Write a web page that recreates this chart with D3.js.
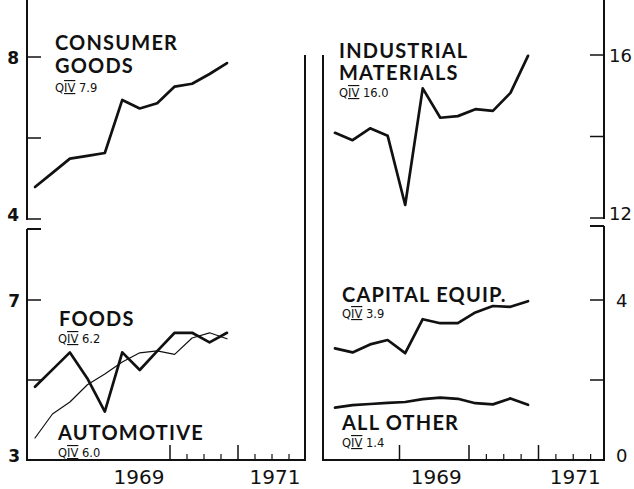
<!DOCTYPE html>
<html>
<head>
<meta charset="utf-8">
<script src="https://cdn.jsdelivr.net/npm/d3@7"></script>
<style>
  html, body { margin: 0; padding: 0; background: #fff; }
  svg { display: block; }
  .ttl { font-family: "Lato", "DejaVu Sans", sans-serif; font-weight: 700; font-size: 20px; letter-spacing: 1.2px; fill: #111; }
  .sub { font-family: "DejaVu Sans", sans-serif; font-size: 11.5px; fill: #111; }
  .ytick { font-family: "DejaVu Sans", sans-serif; font-weight: 700; font-size: 17px; fill: #111; }
  .ytickR { font-family: "DejaVu Sans", sans-serif; font-size: 18px; fill: #111; }
  .year { font-family: "DejaVu Sans", sans-serif; font-size: 20px; fill: #111; }
</style>
</head>
<body>
<script>
// ---- data (billions, seasonally adjusted annual rates) ----
const quarters = ["1968 QI","1968 QII","1968 QIII","1968 QIV",
                  "1969 QI","1969 QII","1969 QIII","1969 QIV",
                  "1970 QI","1970 QII","1970 QIII","1970 QIV"];
const consumerGoods       = [4.79, 5.14, 5.49, 5.56, 5.63, 6.94, 6.73, 6.86, 7.27, 7.34, 7.58, 7.85];
const foods               = [4.83, 5.26, 5.69, 5.04, 4.21, 5.69, 5.25, 5.72, 6.18, 6.18, 5.94, 6.18];
const automotive          = [3.55, 4.15, 4.45, 4.88, 5.15, 5.45, 5.68, 5.73, 5.64, 6.05, 6.18, 6.03];
const industrialMaterials = [14.09, 13.91, 14.20, 14.02, 12.32, 15.18, 14.46, 14.50, 14.67, 14.63, 15.07, 15.98];
const capitalEquip        = [2.79, 2.69, 2.89, 3.00, 2.67, 3.52, 3.42, 3.42, 3.69, 3.85, 3.83, 3.97];
const allOther            = [1.31, 1.37, 1.40, 1.43, 1.45, 1.52, 1.56, 1.53, 1.42, 1.39, 1.54, 1.38];

const leftTopTicks = [4, 6, 8];
const leftTopLabels = ["4", "8"];
const leftBottomTicks = [3, 5, 7];
const leftBottomLabels = ["3", "7"];
const rightTopTicks = [12, 14, 16];
const rightTopLabels = ["12", "16"];
const rightBottomTicks = [0, 2, 4];
const rightBottomLabels = ["0", "4"];
const yearLabels = ["1969", "1971"];
const majorYearTicksLeft = [1970, 1971];
const majorYearTicksRight = [1969, 1970, 1971];
const minorQuarterTicks = [1970.25, 1970.5, 1970.75, 1971.25, 1971.5, 1971.75];

const W = 634, H = 489;
const svg = d3.select("body").append("svg").attr("width", W).attr("height", H);

// ---- panel geometry ----
const baseY = 460;
const L = { x0: 27, x1: 305 };
const R = { x0: 323, x1: 604 };

const xL = d3.scalePoint().domain(quarters).range([35, 227]);
const xR = d3.scalePoint().domain(quarters).range([335, 528]);
const tL = d3.scaleLinear().domain([1968, 1972]).range([34, 306]);
const tR = d3.scaleLinear().domain([1968, 1972]).range([330, 608]);

const yLT = d3.scaleLinear().domain([4, 8]).range([219, 57]);
const yLB = d3.scaleLinear().domain([3, 7]).range([baseY, 300]);
const yRT = d3.scaleLinear().domain([12, 16]).range([218, 55]);
const yRB = d3.scaleLinear().domain([0, 4]).range([baseY, 300]);

const ink = "#111";
const g = svg.append("g");

function vline(x, y0, y1, w) {
  g.append("line").attr("x1", x).attr("x2", x).attr("y1", y0).attr("y2", y1)
    .attr("stroke", ink).attr("stroke-width", w || 2);
}
function hline(x0, x1, y, w) {
  g.append("line").attr("x1", x0).attr("x2", x1).attr("y1", y).attr("y2", y)
    .attr("stroke", ink).attr("stroke-width", w || 2);
}

// ---- frame lines ----
vline(L.x0, 0, yLT(4) + 1);
vline(L.x0, 229, baseY + 1);
hline(L.x0, L.x0 + 14, 229);
vline(R.x1, 0, yRT(12) + 1);
vline(R.x1, 226, baseY + 1);
hline(R.x1 - 14, R.x1, 226);
vline(L.x1, 55, baseY + 1);
vline(R.x0, 55, baseY + 1);
hline(L.x0 - 1, L.x1 + 1, baseY);
hline(R.x0 - 1, R.x1 + 1, baseY);

// ---- y ticks ----
leftTopTicks.forEach(v => hline(L.x0, L.x0 + 14, yLT(v), 1.5));
leftBottomTicks.filter(v => v !== 3).forEach(v => hline(L.x0, L.x0 + 14, yLB(v), 1.5));
rightTopTicks.forEach(v => hline(R.x1 - 14, R.x1, yRT(v), 1.5));
rightBottomTicks.filter(v => v !== 0).forEach(v => hline(R.x1 - 14, R.x1, yRB(v), 1.5));

// labels at the foot of a broken axis sit a little higher
function dy(s, lo) { return (+s === lo) ? 2 : 7; }
leftTopLabels.forEach(s => g.append("text").attr("class", "ytick")
  .attr("x", 19).attr("y", yLT(+s) + dy(s, 4)).attr("text-anchor", "end").text(s));
leftBottomLabels.forEach(s => g.append("text").attr("class", "ytick")
  .attr("x", 20).attr("y", yLB(+s) + dy(s, 3)).attr("text-anchor", "end").text(s));
rightTopLabels.forEach(s => g.append("text").attr("class", "ytickR")
  .attr("x", 609).attr("y", yRT(+s) + dy(s, 12)).text(s));
rightBottomLabels.forEach(s => g.append("text").attr("class", "ytickR")
  .attr("x", 616).attr("y", yRB(+s) + dy(s, 0)).text(s));

// ---- x ticks ----
majorYearTicksLeft.forEach(t => vline(tL(t), baseY - 15, baseY, 1.5));
majorYearTicksRight.forEach(t => vline(tR(t), baseY - 15, baseY, 1.5));
minorQuarterTicks.forEach(t => { vline(tL(t), baseY - 6, baseY, 1.2); vline(tR(t), baseY - 6, baseY, 1.2); });

yearLabels.forEach(s => {
  const c = +s + 0.5;
  g.append("text").attr("class", "year").attr("x", tL(c) + 3).attr("y", 484).attr("text-anchor", "middle").text(s);
  g.append("text").attr("class", "year").attr("x", tR(c) + 2).attr("y", 484).attr("text-anchor", "middle").text(s);
});

// ---- series lines ----
function drawLine(vals, x, y, w) {
  const line = d3.line().x((d, i) => x(quarters[i])).y(d => y(d)).curve(d3.curveLinear);
  g.append("path").datum(vals).attr("d", line)
    .attr("fill", "none").attr("stroke", ink).attr("stroke-width", w)
    .attr("stroke-linejoin", "round").attr("stroke-linecap", "round");
}
drawLine(consumerGoods, xL, yLT, 2.7);
drawLine(automotive, xL, yLB, 1.2);
drawLine(foods, xL, yLB, 2.7);
drawLine(industrialMaterials, xR, yRT, 2.7);
drawLine(capitalEquip, xR, yRB, 2.7);
drawLine(allOther, xR, yRB, 2.7);

// ---- labels ----
function title(lines, x, y0, lh) {
  lines.forEach((s, i) => g.append("text").attr("class", "ttl").attr("x", x).attr("y", y0 + i * lh).text(s));
}
function sub(val, x, y) {
  const t = g.append("text").attr("class", "sub").attr("x", x).attr("y", y);
  t.append("tspan").text("Q");
  t.append("tspan").attr("text-decoration", "underline overline").text("IV");
  t.append("tspan").text(" " + val);
}
title(["CONSUMER", "GOODS"], 55, 50, 23);
sub("7.9", 55, 92);
title(["FOODS"], 59, 326, 0);
sub("6.2", 58, 343);
title(["AUTOMOTIVE"], 58, 440, 0);
sub("6.0", 58, 457);
title(["INDUSTRIAL", "MATERIALS"], 339, 58, 22);
sub("16.0", 339, 97);
title(["CAPITAL EQUIP."], 342, 302, 0);
sub("3.9", 342, 318);
title(["ALL OTHER"], 342, 430, 0);
sub("1.4", 342, 447);
</script>
</body>
</html>
